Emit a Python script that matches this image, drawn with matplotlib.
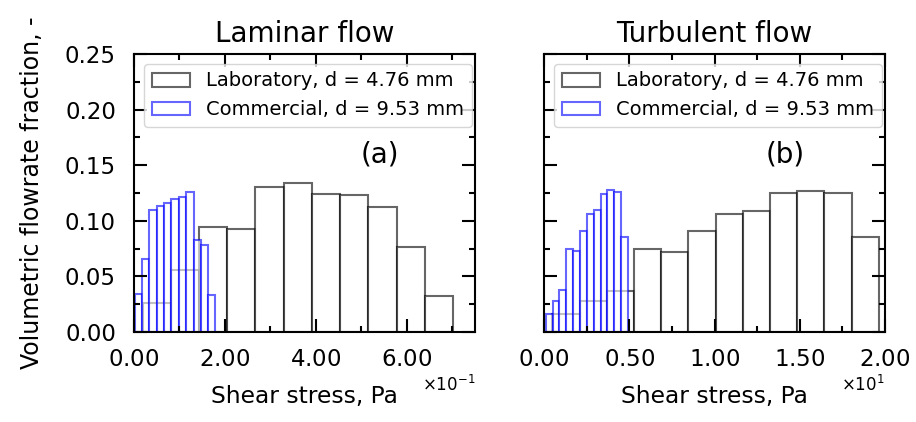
import numpy as np
import matplotlib
matplotlib.use("Agg")
import matplotlib.pyplot as plt
from matplotlib.ticker import ScalarFormatter, MultipleLocator, FormatStrFormatter

# Histogram data (bin edges in Pa, volumetric fractions)
lab_edges_lam = [0.019, 0.081, 0.143, 0.205, 0.267, 0.329, 0.391, 0.453, 0.515, 0.578, 0.640, 0.702]
lab_frac_lam = [0.026, 0.056, 0.094, 0.093, 0.130, 0.134, 0.124, 0.123, 0.112, 0.076, 0.032]

com_edges_lam = [0.002, 0.018, 0.034, 0.050, 0.066, 0.082, 0.098, 0.114, 0.131, 0.147, 0.163, 0.179]
com_frac_lam = [0.034, 0.066, 0.110, 0.113, 0.116, 0.120, 0.121, 0.126, 0.083, 0.078, 0.033]

lab_edges_tur = [0.49, 2.09, 3.68, 5.28, 6.87, 8.47, 10.07, 11.66, 13.26, 14.85, 16.45, 18.04, 19.64]
lab_frac_tur = [0.016, 0.028, 0.037, 0.075, 0.072, 0.091, 0.106, 0.109, 0.125, 0.127, 0.125, 0.085]

com_edges_tur = [0.10, 0.50, 0.90, 1.31, 1.71, 2.11, 2.51, 2.91, 3.32, 3.72, 4.12, 4.52, 4.92]
com_frac_tur = [0.016, 0.028, 0.038, 0.075, 0.073, 0.091, 0.106, 0.110, 0.124, 0.128, 0.126, 0.085]

titles = ["Laminar flow", "Turbulent flow"]
tags = ["(a)", "(b)"]
lab_label = "Laboratory, d = 4.76 mm"
com_label = "Commercial, d = 9.53 mm"


class FixedScalar(ScalarFormatter):
    # two decimals on the mantissa, like 2.00 x10^-1
    def _set_format(self):
        self.format = "%1.2f"
        if self._useMathText:
            self.format = r"$\mathdefault{%s}$" % self.format


def draw_bars(ax, edges, frac, color, label):
    edges = np.asarray(edges)
    ax.bar(edges[:-1], frac, width=np.diff(edges), align="edge",
           color="white", edgecolor=color, linewidth=1.5, alpha=0.6, label=label)


fig = plt.figure(figsize=(9.16, 4.22), dpi=100)
ax1 = fig.add_axes([134 / 916, 90 / 422, 341 / 916, 278 / 422])
ax2 = fig.add_axes([544 / 916, 90 / 422, 341 / 916, 278 / 422])

draw_bars(ax1, lab_edges_lam, lab_frac_lam, "black", lab_label)
draw_bars(ax1, com_edges_lam, com_frac_lam, "blue", com_label)
draw_bars(ax2, lab_edges_tur, lab_frac_tur, "black", lab_label)
draw_bars(ax2, com_edges_tur, com_frac_tur, "blue", com_label)

ax1.set_xlim(0, 0.75)
ax2.set_xlim(0, 20)
ax1.xaxis.set_major_locator(MultipleLocator(0.2))
ax1.xaxis.set_minor_locator(MultipleLocator(0.1))
ax2.xaxis.set_major_locator(MultipleLocator(5))
ax2.xaxis.set_minor_locator(MultipleLocator(2.5))

for i, ax in enumerate([ax1, ax2]):
    ax.set_ylim(0, 0.25)
    ax.yaxis.set_major_locator(MultipleLocator(0.05))
    ax.yaxis.set_minor_locator(MultipleLocator(0.025))
    ax.yaxis.set_major_formatter(FormatStrFormatter("%.2f"))
    fmt = FixedScalar(useMathText=True)
    fmt.set_powerlimits((0, 0))
    ax.xaxis.set_major_formatter(fmt)
    ax.xaxis.get_offset_text().set_fontsize(12)
    ax.tick_params(which="both", direction="in", top=True, right=True,
                   labelsize=16.5, width=1.5)
    ax.tick_params(axis="x", which="major", length=9.5, pad=11.5)
    ax.tick_params(axis="y", which="major", length=9.5, pad=13)
    ax.tick_params(which="minor", length=4.5)
    for sp in ax.spines.values():
        sp.set_linewidth(1.5)
    ax.set_title(titles[i], fontsize=20, pad=9)
    ax.set_xlabel("Shear stress, Pa", fontsize=16.8, labelpad=10)
    ax.legend(loc="upper left", fontsize=14)

ax1.text(0.7205, 0.637, tags[0], transform=ax1.transAxes, fontsize=20,
         ha="center", va="center")
ax2.text(0.708, 0.637, tags[1], transform=ax2.transAxes, fontsize=20,
         ha="center", va="center")

ax1.set_ylabel("Volumetric flowrate fraction, -", fontsize=17, labelpad=15)
ax2.tick_params(labelleft=False)

plt.savefig("out.png", dpi=100)
